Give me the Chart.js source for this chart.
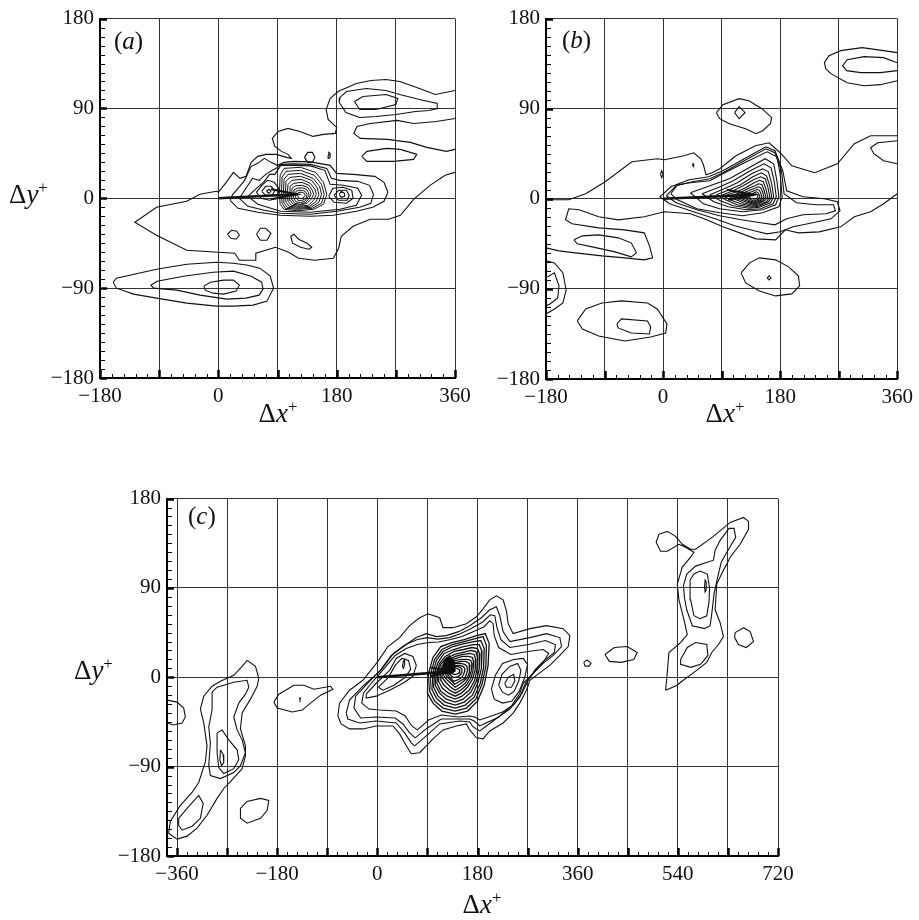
<!DOCTYPE html>
<html>
<head>
<meta charset="utf-8">
<title>Spatial correlation contours</title>
<script src="https://cdn.jsdelivr.net/npm/chart.js@4.4.1/dist/chart.umd.min.js"></script>
<style>
  html, body { margin: 0; padding: 0; background: #fff; }
  #page { position: relative; width: 919px; height: 920px; overflow: hidden; }
  canvas { position: absolute; }
  .lab { position: absolute; font-family: 'Liberation Serif', 'Times New Roman', serif; color: #111; line-height: 1; white-space: nowrap; }
  .lab sup { font-size: 0.62em; vertical-align: 0.58em; line-height: 0; }
  .panel { font-size: 25px; }
  .axt { font-size: 27px; }
</style>
</head>
<body>
<div id="page">
  <canvas id="chartA" width="480" height="440" style="left:0;top:0"></canvas>
  <canvas id="chartB" width="467" height="440" style="left:452px;top:0"></canvas>
  <canvas id="chartC" width="740" height="440" style="left:60px;top:480px"></canvas>

  <div class="lab panel" style="left:114px;top:28px">(<i>a</i>)</div>
  <div class="lab panel" style="left:562px;top:27px">(<i>b</i>)</div>
  <div class="lab panel" style="left:188px;top:503px">(<i>c</i>)</div>

  <div class="lab axt" style="left:9px;top:181px">Δ<i>y</i><sup>+</sup></div>
  <div class="lab axt" style="left:74px;top:657px">Δ<i>y</i><sup>+</sup></div>
  <div class="lab axt" style="left:228px;top:400px;width:100px;text-align:center">Δ<i>x</i><sup>+</sup></div>
  <div class="lab axt" style="left:675px;top:400px;width:100px;text-align:center">Δ<i>x</i><sup>+</sup></div>
  <div class="lab axt" style="left:432px;top:891px;width:100px;text-align:center">Δ<i>x</i><sup>+</sup></div>
</div>

<script>
// ---- axes ----
const yTicks = [-180, -90, 0, 90, 180];
const yLabels = ['\u2212180', '\u221290', '0', '90', '180'];
const xTicksAB = [-180, -90, 0, 90, 180, 270, 360];
const xLabelsAB = ['\u2212180', '', '0', '', '180', '', '360'];
const xTicksC = [-360, -270, -180, -90, 0, 90, 180, 270, 360, 450, 540, 630, 720];
const xLabelsC = ['\u2212360', '', '\u2212180', '', '0', '', '180', '', '360', '', '540', '', '720'];

// ---- panel (a): contour traces as flat x,y lists ----
const arrowA = [0, 0, 120, 4];
const arrowHeadA = [80, 9, 120, 4, 80, -1];
const openA = [
  // outermost level, enters and leaves through the right edge
  [360,108, 330,104, 306,110, 276,117, 255,119, 232,118, 210,115, 182,107, 170,100, 164,89, 167,79, 180,71,
   178,65, 160,64, 144,62, 124,67, 106,70, 91,67, 82,60, 86,52, 96,47, 106,44, 111,40, 104,41, 88,44, 72,44,
   60,42, 50,36, 42,22, 33,20, 23,26, 12,16, 0,6, -3,7, -28,4, -48,-3, -94,-9, -127,-24, -94,-37, -48,-52,
   0,-54, 25,-55, 32,-62, 56,-62, 57,-55, 72,-52, 87,-49, 107,-54, 122,-60, 147,-62, 175,-60, 183,-50,
   187,-38, 205,-28, 231,-21, 259,-21, 277,-17, 297,-1, 322,13, 345,23, 360,26],
  [360,80, 332,77, 297,75, 272,78, 231,75, 211,72, 206,65, 216,60, 257,59, 292,56, 317,51, 347,47, 360,49]
];
const loopsA = [
  [184,96, 194,86, 215,81, 240,82, 270,84, 300,87, 320,88, 334,90, 333,95, 306,99, 276,104, 255,108, 225,110, 195,107, 185,101],
  [207,97, 215,89, 240,89, 270,94, 273,100, 255,104, 220,102],
  [218,42, 226,47, 256,50, 277,49, 302,44, 297,39, 267,37, 226,37],
  [131,41, 136,46, 143,46, 147,41, 143,36, 136,36],
  [167,43, 168,46, 170,45, 170,41, 168,40],
  [14,-36, 20,-32, 28,-33, 32,-37, 27,-41, 19,-40],
  [58,-36, 64,-30, 72,-30, 80,-35, 74,-42, 64,-42],
  [110,-38, 115,-36, 122,-41, 135,-45, 142,-49, 138,-51, 125,-49, 113,-45],
  [-160,-84, -155,-80, -128,-76, -94,-71, -48,-66, -2,-64, 23,-65, 45,-67, 63,-70, 79,-78, 84,-90, 74,-103,
   53,-107, 23,-108, -3,-108, -48,-105, -94,-100, -129,-96, -155,-90],
  [-103,-87, -93,-83, -53,-78, -8,-74, 23,-73, 50,-78, 66,-84, 68,-91, 62,-97, 42,-100, 13,-101, -28,-97, -63,-92, -98,-90],
  [-22,-88, -12,-84, 8,-82, 23,-82, 32,-87, 27,-93, 8,-96, -8,-95, -20,-92],
  // rings around the near-wall peak and its two side lobes
  [18,-2, 30,-10, 60,-14, 94,-17, 140,-18, 175,-17, 210,-13, 235,-9, 252,-3, 258,6, 252,16, 238,22, 205,24,
   180,25, 170,33, 140,36.5, 115,37, 100,36, 90,33, 80,36, 70,40, 60,35, 50,32, 40,18, 30,10, 22,4],
  [32,0, 45,-8, 70,-12, 95,-15, 140,-16, 180,-13, 215,-9, 232,-5, 236,4, 230,13, 212,17, 185,18, 172,20,
   165,30, 140,34, 115,34.5, 95,34, 88,30, 82,28, 72,24, 62,18, 52,20, 42,10],
  [45,2, 60,-6, 95,-13, 140,-14, 185,-11, 210,-7, 218,3, 212,10, 190,13, 170,14, 162,28, 140,32.5, 115,33,
   95,33, 86,24, 78,24, 70,17, 58,10],
  [58,6, 65,0, 78,-2, 90,0, 92,10, 85,16, 75,18, 66,13],
  [66,7, 72,3, 82,3, 86,8, 80,12, 72,12],
  [73,7, 77,5, 80,7, 77,9],
  [168,2, 176,-4, 195,-5, 205,0, 203,8, 190,11, 174,10],
  [176,3, 183,-2, 196,-2, 199,3, 195,8, 183,8],
  [184,4, 187,1, 192,2, 192,5, 187,7]
];
const coreA = [
  [93,5, 94,23, 100,30, 125,31, 148,26, 160,16, 165,4, 160,-6, 145,-11, 120,-12.5, 100,-11, 94,-6],
  [96,5, 97,21, 103,27, 125,28, 146,23, 157,14, 161,4, 157,-5, 143,-10, 120,-11, 102,-10, 97,-5],
  [99,5, 100,19, 106,24, 125,25, 144,20, 154,12, 157,4, 153,-4, 141,-9, 121,-10, 105,-9, 100,-5],
  [102,5, 103,17, 109,21, 125,22, 142,18, 150,11, 153,4, 149,-3, 139,-8, 122,-9, 108,-8, 103,-4],
  [105,5, 106,14, 112,18, 126,19, 140,15, 147,9, 149,4, 145,-2, 137,-7, 123,-8, 111,-7, 106,-3],
  [108,5, 109,12, 115,15, 127,16, 138,13, 143,8, 145,4, 141,-1, 135,-5, 124,-7, 114,-6, 109,-2],
  [111,4, 112,10, 117,12.5, 127,13, 136,11, 140,7, 141,4, 138,0, 133,-4, 125,-6, 116,-5, 112,-1],
  [114,4, 115,8.5, 120,10, 128,10.5, 134,9, 137,6, 138,3, 135,0, 131,-3, 125,-4.5, 118,-3.5, 115,0],
  [117,4, 118,7, 122,8, 128,8, 132,7, 135,4, 134,1, 131,-1, 126,-2.5, 121,-2, 118,1],
  [120,4, 122,6, 127,6, 131,5, 132,3, 130,1, 126,-0.5, 122,0.5]
];

// ---- panel (b) ----
const arrowB = [0, 0, 140, 4];
const arrowHeadB = [98, 9, 140, 4, 100, -1];
const openB = [
  [-180,-1, -145,-1, -119,5, -89,17, -48,37, -9,40, 2,39, 32,43, 47,46, 58,40, 62,34, 66,24, 75,26, 87,30,
   112,43, 142,53, 163,56, 180,46, 198,33, 233,26, 268,35, 294,55, 319,63, 360,63],
  [360,5, 339,-5, 319,-13, 294,-18, 273,-28, 240,-33, 208,-34, 188,-31, 173,-41, 143,-40, 92,-28, 67,-21,
   42,-15, 2,-13, -29,-18, -69,-21, -99,-18, -129,-11, -145,-10, -150,-21, -140,-25, -99,-29, -59,-31,
   -29,-34, -21,-47, -16,-59, -29,-61, -59,-59, -94,-57, -135,-54, -160,-52, -180,-49],
  [360,146, 339,148, 306,151, 273,148, 255,143, 248,136, 250,130, 258,125, 283,116, 309,113, 334,114, 360,118],
  [360,136, 339,141, 309,142, 283,139, 276,133, 282,128, 304,126, 334,126, 360,128],
  [360,58, 330,56, 319,51, 324,45, 339,38, 360,35],
  [-180,-62, -167,-64, -154,-74, -149,-91, -154,-104, -167,-110, -180,-115],
  [-180,-79, -167,-74, -160,-87, -162,-99, -174,-105, -180,-107]
];
const loopsB = [
  [82,86, 92,94, 117,100, 132,98, 152,90, 167,81, 165,75, 153,68, 143,65, 127,70, 102,75, 87,80],
  [110,86, 117,92, 126,86, 117,80],
  [120,-74, 133,-64, 148,-59, 173,-61, 193,-68, 208,-77, 210,-87, 198,-95, 173,-97, 148,-92, 127,-84],
  [160,-79, 163,-77, 166,-79, 163,-81],
  [-132,-122, -119,-110, -94,-104, -64,-102, -24,-104, -9,-110, 6,-125, 4,-134, -19,-138, -59,-142, -99,-137, -124,-130],
  [-71,-125, -64,-120, -24,-122, -19,-128, -21,-135, -49,-134, -69,-129],
  [-137,-41, -124,-37, -99,-36, -69,-39, -49,-44, -41,-54, -49,-58, -74,-53, -109,-48, -132,-45],
  [-4,24.5, -2,28, 0,24.5, -2,21],
  [45,33, 46,35, 47,33],
  [5,3, 20,13, 45,17, 72,20, 92,26, 122,37, 158,50, 172,46, 182,28, 186,5, 205,-4, 235,-6, 262,-6, 265,-12,
   250,-15, 215,-16, 190,-20, 172,-26, 150,-24, 120,-21, 87,-17, 52,-11, 20,-4],
  [-5,2, 12,12, 40,19, 70,22, 92,28, 122,39, 158,52, 172,48, 184,28, 190,8, 215,2, 248,0, 268,-3, 272,-12,
   258,-20, 230,-24, 200,-28, 180,-33, 160,-35, 140,-32, 110,-27, 80,-20, 42,-12, 10,-5]
];
const coreB = [
  [12,5, 22,14, 42,16, 72,18, 92,25, 122,35, 160,47, 175,42, 180,25, 183,2, 178,-8, 153,-14, 122,-17, 87,-14, 52,-10, 22,-1],
  [42,6, 72,13, 102,20, 132,31, 157,40, 170,35, 175,18, 178,2, 173,-6, 153,-11, 122,-13, 87,-10, 62,-5],
  [60,5, 84,11, 108,18, 134,28, 155,35, 166,31, 171,17, 174,2, 169,-5, 150,-10, 128,-11, 100,-8, 78,-3],
  [72,4, 94,10, 114,16, 136,25, 153,30, 162,27, 167,15, 170,2, 165,-4, 148,-8.5, 132,-9.5, 108,-7, 88,-2],
  [82,4, 102,9, 119,14, 138,22, 151,26, 159,23, 164,13, 167,2, 162,-3, 147,-7.5, 135,-8.5, 114,-6, 96,-1],
  [90,3.5, 108,8, 123,13, 139,19, 150,22, 157,20, 161,12, 164,2, 159,-3, 146,-6.5, 137,-7.5, 119,-5, 103,-1],
  [97,3.5, 113,7, 127,11, 140,16, 148,18.5, 154,17, 158,10, 161,2, 156,-2, 145,-5.5, 138,-6.5, 123,-4, 109,0],
  [104,3, 118,6, 130,10, 141,13, 147,15, 152,14, 155,9, 158,2, 153,-2, 144,-4.5, 139,-5.5, 127,-3, 114,0],
  [110,3, 122,5.5, 133,8.5, 141,10.5, 146,12, 150,11, 153,7, 155,2, 151,-1.5, 144,-3.5, 140,-4.5, 130,-2.5, 119,0.5],
  [116,3, 127,5, 136,7, 142,8.5, 145,9.5, 148,8.5, 150,6, 152,2, 149,-1, 143,-2.5, 140,-3.5, 133,-2, 124,1],
  [122,2.5, 131,4, 138,5.5, 142,6.5, 144,7, 146,6, 147.5,4.5, 149,2, 146.5,-0.5, 142,-1.5, 140,-2.5, 135,-1, 129,1],
  [128,2.5, 135,3.5, 140,4.5, 143,5, 145,4, 146,2, 144,0.5, 141,-0.5, 136,0, 132,1.5]
];

// ---- panel (c) ----
const arrowC = [0, 0, 132, 6];
const arrowHeadC = [95, 10, 132, 6, 95, 1];
const openC = [
  [-378,-23, -360,-25, -348,-31, -345,-40, -351,-46, -366,-48, -378,-46]
];
const loopsC = [
  [-234,17, -219,11, -213,-1, -216,-9, -228,-22, -243,-36, -246,-52, -237,-69, -237,-79, -243,-92, -264,-105,
   -276,-112, -288,-122, -306,-139, -324,-152, -342,-160, -360,-163, -375,-157, -372,-145, -354,-129, -333,-116,
   -321,-106, -309,-85, -306,-69, -312,-46, -318,-32, -312,-19, -297,-9, -282,-4, -258,2, -243,11],
  [-297,-15, -288,-10, -258,-5, -234,-3, -231,-10, -237,-17, -249,-26, -258,-40, -252,-53, -243,-63, -237,-76,
   -246,-89, -258,-96, -282,-102, -300,-99, -303,-89, -300,-66, -303,-50, -297,-33],
  [-288,-56, -279,-53, -267,-63, -252,-73, -249,-83, -258,-92, -276,-97, -285,-91, -288,-76],
  [-282,-73, -277,-78, -276,-86, -280,-89, -283,-83],
  [-357,-142, -342,-132, -321,-119, -313,-127, -318,-142, -333,-150, -351,-154, -357,-149],
  [-186,-25, -177,-17, -150,-8, -132,-8, -114,-12, -84,-9, -80,-12, -102,-18, -120,-26, -135,-33, -153,-35, -180,-31],
  [-140,-21, -139,-22.5, -138,-21],
  [-246,-132, -234,-125, -210,-122, -195,-124, -198,-134, -210,-142, -234,-147, -246,-142],
  // main structure, outer levels
  [-71,-39, -68,-26, -50,-13, -26,-3, 1,16, 19,31, 40,40, 58,52, 76,60, 91,64, 112,60, 118,50, 136,50, 160,54,
   178,61, 190,69, 202,78, 214,82, 226,78, 232,67, 235,54, 244,44, 274,49, 304,52, 334,49, 346,42, 343,31,
   328,22, 310,12, 298,7, 274,-3, 268,-13, 256,-26, 244,-36, 226,-46, 202,-54, 190,-62, 178,-61, 166,-53,
   160,-47, 142,-49, 118,-53, 100,-62, 88,-69, 76,-76, 61,-77, 52,-69, 40,-57, 28,-49, -2,-49, -26,-52, -50,-52, -65,-47],
  [-56,-36, -50,-23, -26,-9, 4,6, 25,22, 49,32, 70,40, 88,44, 106,41, 124,42, 146,46, 166,52, 187,60, 202,68,
   214,71, 220,62, 226,46, 238,36, 274,40, 304,44, 328,40, 331,31, 316,22, 298,14, 280,4, 262,-6, 256,-16,
   241,-29, 220,-39, 196,-49, 184,-54, 172,-50, 166,-45, 148,-44, 112,-47, 88,-59, 67,-69, 61,-66, 49,-56,
   34,-46, -2,-44, -32,-46, -53,-42],
  [-42,-31, -39,-19, -16,-5, 9,9, 29,24, 51,33, 72,38, 90,40, 108,38.5, 130,40, 150,44, 168,49, 190,56, 203,63,
   211,62, 215,50, 222,38, 238,30, 272,33, 302,37, 320,33, 318,25, 301,17, 283,6, 266,-6, 256,-20, 238,-32,
   215,-41, 195,-46, 184,-49, 174,-44, 166,-42, 148,-42, 115,-42, 90,-51, 68,-61, 58,-56, 46,-47, 32,-41,
   -2,-40, -30,-41],
  [-28,-26, -25,-16, -8,-4, 14,10, 32,22, 52,29, 72,33, 92,35, 110,35.5, 132,38, 152,41, 172,46, 192,51,
   202,57, 208,54, 210,42, 218,30, 240,23, 270,26, 298,28, 308,24, 300,17, 284,8, 270,-4, 260,-16, 246,-27,
   225,-35, 200,-40, 184,-43, 175,-40, 165,-39, 145,-40, 115,-38, 92,-43, 72,-53, 62,-49, 50,-39, 34,-34,
   5,-33, -15,-32],
  // side lobes
  [-20,-17, -2,-6, 22,7, 34,19, 49,24, 64,21, 70,12, 64,1, 46,-6, 22,-13, -2,-19, -20,-21],
  [2,-10, 20,0, 32,12, 44,19, 56,17, 60,8, 50,0, 30,-8, 10,-13],
  [45,11, 47,16, 49,18, 49,13, 47,9],
  [205,-12, 212,2, 225,14, 245,18, 262,19, 270,13, 265,0, 255,-14, 242,-24, 225,-26, 210,-22],
  [218,-8, 224,3, 238,11, 252,14, 258,7, 254,-4, 246,-14, 236,-18, 225,-15],
  [229,-6, 235,0, 245,3, 247,-4, 241,-10, 232,-10],
  // far downstream
  [371,15, 377,17.5, 384,14, 380,11, 373,11.5],
  [409,23, 426,30, 449,31, 467,25, 461,18, 438,15, 417,16],
  [643,45, 658,50, 670,46, 676,36, 663,30, 649,33, 642,40],
  [518,-13, 520,-2, 524,25, 545,35, 557,43, 551,58, 542,78, 539,94, 548,111, 563,121, 569,126, 554,131,
   542,134, 521,127, 509,127, 501,136, 506,144, 521,147, 536,142, 548,134, 563,129, 572,129, 604,142,
   634,156, 658,161, 667,157, 667,149, 652,134, 634,121, 628,114, 622,108, 610,94, 607,68, 616,55, 622,41,
   613,33, 601,25, 592,15, 569,5, 545,-5, 539,-8],
  [550,92, 556,104, 572,112, 604,118, 607,128, 616,138, 632,150, 641,150, 644,141, 628,126, 618,116, 612,102,
   605,84, 601,64, 598,52, 588,49, 566,52, 556,68, 552,80],
  [562,98, 569,104, 580,107, 593,104, 597,90, 596,76, 592,62, 580,59, 569,62, 563,78],
  [588,91, 589,98, 591,96, 591,88, 589,86],
  [545,18, 557,30, 572,35, 592,33, 594,22, 581,13, 563,10, 545,13]
];
const coreC = [
  [90,-16, 92,4, 100,20, 114,31, 134,35, 156,38, 178,42, 194,44, 201,34, 199,12, 192,-8, 180,-24, 162,-34, 140,-37, 116,-34, 100,-26],
  [94,-14, 96,4, 103,18, 116,28, 135,33, 156,36, 176,39, 190,41, 196,32, 195,11, 188,-7, 177,-22, 160,-31, 140,-34, 118,-31, 103,-24],
  [98,-12, 100,4, 106,17, 118,26, 136,31, 156,34, 174,36, 186,37, 192,29, 191,10, 185,-6, 174,-20, 158,-28, 140,-31, 120,-28, 106,-21],
  [101,-10, 103,4, 109,15, 120,24, 137,28, 155,31, 172,33, 183,33, 188,26, 187,9, 181,-5, 171,-18, 156,-25, 140,-28, 122,-25, 109,-19],
  [104,-8, 106,4, 112,14, 122,21, 138,26, 155,28, 170,30, 180,29, 184,23, 183,8, 178,-4, 168,-15, 154,-22, 140,-25, 124,-22, 112,-16],
  [107,-6, 109,5, 114,13, 124,19, 139,23, 154,25, 168,27, 177,26, 180,20, 179,8, 175,-3, 165,-13, 152,-19, 140,-22, 126,-19, 114,-14],
  [110,-4, 111,5, 117,12, 126,17, 140,21, 154,23, 166,24, 174,23, 177,18, 176,8, 171,-2, 162,-10, 151,-16, 140,-19, 128,-16, 117,-11],
  [113,-2, 114,6, 119,11, 128,16, 141,19, 153,21, 164,21, 171,20, 173,15, 172,7, 168,-1, 160,-8, 150,-13, 140,-16, 130,-13, 120,-8],
  [116,0, 117,7, 122,11, 130,15, 141,17, 152,18, 162,18, 168,17, 170,13, 169,7, 165,0, 158,-6, 149,-10, 140,-13, 132,-10, 123,-5],
  [119,2, 120,8, 124,11, 132,14, 142,15, 151,16, 159,16, 165,14, 166,10, 165,5, 162,0, 155,-4, 148,-7, 140,-10, 134,-7, 126,-3],
  [122,3, 123,8, 127,11, 134,13, 142,14, 150,14, 157,13, 161,11, 162,7, 160,3, 157,-1, 151,-3, 145,-5, 139,-7, 134,-4, 128,-1],
  [125,4, 126,9, 130,11, 136,12, 143,12, 149,12, 154,11, 157,9, 157,6, 155,3, 152,0, 147,-2, 142,-3, 137,-4, 132,-1],
  [128,5, 129,9, 133,10, 138,11, 144,11, 149,10, 152,8, 152,5, 150,3, 146,1, 141,0, 136,0, 132,2],
  [131,6, 133,9, 138,10, 143,9, 147,8, 148,6, 146,4, 142,3, 137,3, 133,4]
];
const peakC = [118,5, 120,18, 130,22, 138,16, 140,6, 130,3];

// ---- helpers ----
const serif = "'Liberation Serif', 'Times New Roman', serif";
const ink = '#111';

function toPoints(flat, closed) {
  const pts = [];
  for (let i = 0; i < flat.length; i += 2) pts.push({ x: flat[i], y: flat[i + 1] });
  if (closed) pts.push(pts[0]);
  return pts;
}

function lineSet(flat, closed, width) {
  return {
    data: toPoints(flat, closed),
    showLine: true,
    borderColor: ink,
    borderWidth: width || 1.1,
    pointRadius: 0,
    tension: 0,
    fill: false
  };
}

function buildSets(open, loops, core, shaft, head, coreWidth) {
  const sets = [];
  open.forEach(p => sets.push(lineSet(p, false)));
  loops.forEach(p => sets.push(lineSet(p, true)));
  core.forEach(p => sets.push(lineSet(p, true, coreWidth)));
  sets.push(lineSet(shaft, false, 2.6));
  sets.push(lineSet(head, false, 2));
  return sets;
}

// small inward ticks along the left and bottom frame
const innerTicks = {
  id: 'innerTicks',
  afterDatasetsDraw(chart) {
    const { ctx, chartArea: a, scales: { x, y } } = chart;
    ctx.save();
    ctx.strokeStyle = '#000';
    for (let v = Math.ceil(x.min / 18) * 18; v <= x.max; v += 18) {
      const px = Math.round(x.getPixelForValue(v)) + 0.5;
      const major = v % 90 === 0;
      ctx.lineWidth = major ? 2.5 : 1;
      ctx.beginPath();
      ctx.moveTo(px, a.bottom);
      ctx.lineTo(px, a.bottom - (major ? 8 : 4));
      ctx.stroke();
    }
    for (let v = y.min; v <= y.max; v += 9) {
      const py = Math.round(y.getPixelForValue(v)) + 0.5;
      const major = v % 90 === 0;
      ctx.lineWidth = major ? 2.5 : 1;
      ctx.beginPath();
      ctx.moveTo(a.left, py);
      ctx.lineTo(a.left + (major ? 7 : 5), py);
      ctx.stroke();
    }
    ctx.restore();
  }
};

function axis(min, max, ticks, labels, fit) {
  return {
    type: 'linear',
    min: min,
    max: max,
    afterBuildTicks: s => { s.ticks = ticks.map(v => ({ value: v })); },
    afterFit: fit,
    grid: { color: '#333', lineWidth: 1, drawTicks: false },
    border: { color: '#000', width: 2 },
    ticks: {
      autoSkip: false,
      maxRotation: 0,
      padding: 6,
      color: ink,
      font: { family: serif, size: 21 },
      callback: (v, i) => labels[i]
    }
  };
}

function drawPanel(id, sets, xMin, xMax, xTicks, xLabels, yWidth, xHeight, pad) {
  new Chart(document.getElementById(id), {
    type: 'scatter',
    data: { datasets: sets },
    options: {
      responsive: false,
      animation: false,
      events: [],
      layout: { padding: pad },
      plugins: { legend: { display: false }, tooltip: { enabled: false } },
      scales: {
        x: axis(xMin, xMax, xTicks, xLabels, s => { s.height = xHeight; }),
        y: axis(-180, 180, yTicks, yLabels, s => { s.width = yWidth; })
      }
    },
    plugins: [innerTicks]
  });
}

const setsC = buildSets(openC, loopsC, coreC, arrowC, arrowHeadC, 1.3);
setsC.push({
  data: toPoints(peakC, true), showLine: true, borderColor: ink, borderWidth: 1,
  backgroundColor: '#000', pointRadius: 0, tension: 0, fill: 'shape'
});

drawPanel('chartA', buildSets(openA, loopsA, coreA, arrowA, arrowHeadA, 1),
  -180, 360, xTicksAB, xLabelsAB, 100, 62, { left: 0, top: 15, right: 25, bottom: 0 });
drawPanel('chartB', buildSets(openB, loopsB, coreB, arrowB, arrowHeadB, 1.1),
  -180, 360, xTicksAB, xLabelsAB, 94, 61, { left: 0, top: 16, right: 16, bottom: 0 });
drawPanel('chartC', setsC,
  -378, 720, xTicksC, xLabelsC, 107, 64, { left: 0, top: 13, right: 22, bottom: 0 });
</script>
</body>
</html>
